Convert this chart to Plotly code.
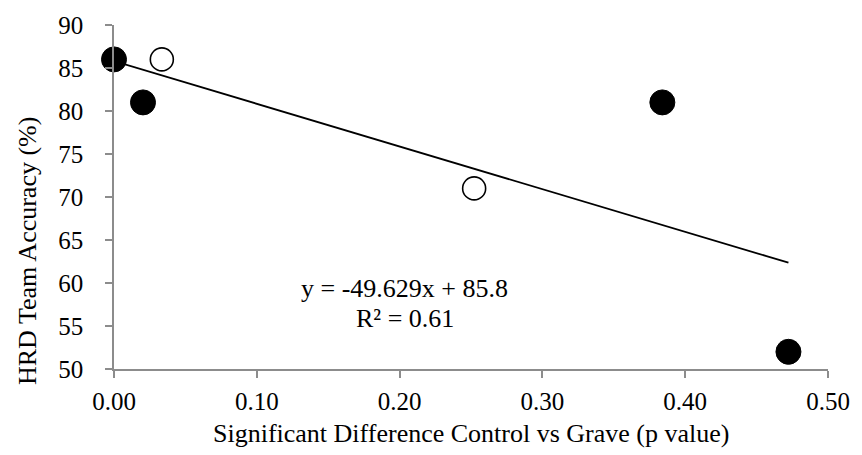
import numpy as np
import plotly.graph_objects as go

# Observed points: p value of the control-vs-grave difference and team accuracy
filled_x = [0.000, 0.0203, 0.384, 0.4723]
filled_y = [86, 81, 81, 52]
open_x = [0.0335, 0.2522]
open_y = [86, 71]

# Linear trend reported on the chart
slope = -49.629
intercept = 85.8
r_squared = 0.61

x_ticks = [0.0, 0.1, 0.2, 0.3, 0.4, 0.5]
y_ticks = [50, 55, 60, 65, 70, 75, 80, 85, 90]

x_title = "Significant Difference Control vs Grave (p value)"
y_title = "HRD Team Accuracy (%)"

all_x = filled_x + open_x
trend_x = np.array([min(all_x), max(all_x)])
trend_y = slope * trend_x + intercept

FONT = "Liberation Serif, Times New Roman, serif"
AXIS_GREY = "#8c8c8c"
TICK_SIZE = 25
TEXT_SIZE = 26

fig = go.Figure()
fig.add_trace(go.Scatter(
    x=trend_x, y=trend_y, mode="lines",
    line=dict(color="black", width=1.8), showlegend=False, hoverinfo="skip",
))
fig.add_trace(go.Scatter(
    x=filled_x, y=filled_y, mode="markers",
    marker=dict(symbol="circle", size=25, color="black",
                line=dict(color="black", width=1)),
    showlegend=False, cliponaxis=False,
))
fig.add_trace(go.Scatter(
    x=open_x, y=open_y, mode="markers",
    marker=dict(symbol="circle", size=23, color="white",
                line=dict(color="black", width=1.6)),
    showlegend=False, cliponaxis=False,
))

# Trendline equation and fit quality
fig.add_annotation(
    x=0.2032, y=59.4, xref="x", yref="y",
    text=f"y = {slope}x + {intercept}",
    showarrow=False, font=dict(family=FONT, size=TEXT_SIZE, color="black"),
)
fig.add_annotation(
    x=0.2035, y=55.85, xref="x", yref="y",
    text=f"R² = {r_squared}",
    showarrow=False, font=dict(family=FONT, size=TEXT_SIZE, color="black"),
)

# Axis titles
fig.add_annotation(
    x=0.5, y=0, xref="paper", yref="paper", yanchor="middle",
    yshift=-64, text=x_title, showarrow=False,
    font=dict(family=FONT, size=TEXT_SIZE, color="black"),
)
fig.add_annotation(
    x=0, y=0.5, xref="paper", yref="paper", xanchor="center", yanchor="middle",
    xshift=-87, yshift=-54, textangle=-90, text=y_title, showarrow=False,
    font=dict(family=FONT, size=TEXT_SIZE, color="black"),
)

fig.update_layout(
    width=862, height=455,
    margin=dict(l=114, r=27, t=21, b=86),
    paper_bgcolor="white", plot_bgcolor="white",
    font=dict(family=FONT, size=TICK_SIZE, color="black"),
)
fig.update_xaxes(
    range=[0, 0.5], tickvals=x_ticks, tickformat=".2f",
    showgrid=False, zeroline=False,
    showline=True, linecolor=AXIS_GREY, linewidth=1.5,
    ticks="outside", ticklen=7, tickcolor=AXIS_GREY, tickwidth=1.5,
    ticklabelstandoff=2,
)
fig.update_yaxes(
    range=[50, 90], tickvals=y_ticks,
    showgrid=False, zeroline=False,
    showline=True, linecolor=AXIS_GREY, linewidth=1.5,
    ticks="outside", ticklen=7, tickcolor=AXIS_GREY, tickwidth=1.5,
    ticklabelstandoff=17,
)

fig.write_html("out.html")
